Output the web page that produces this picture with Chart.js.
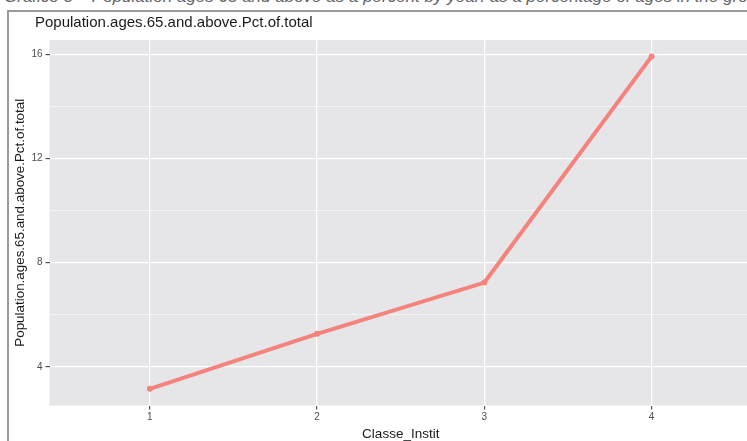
<!DOCTYPE html>
<html><head><meta charset="utf-8">
<script src="https://cdn.jsdelivr.net/npm/chart.js@4"></script>
<style>
html,body{margin:0;padding:0;width:747px;height:441px;overflow:hidden;background:#fff;}
#wrap{position:relative;width:747px;height:441px;overflow:hidden;}
#cap{position:absolute;left:0;top:0;width:747px;height:8px;overflow:hidden;}
#cap span{position:absolute;left:4px;top:-13px;white-space:nowrap;font:italic 17px "Liberation Sans",Arial,sans-serif;color:#666;}
#frame{position:absolute;left:7px;top:10px;width:760px;height:450px;border-left:2px solid #9a9a9a;border-top:2px solid #9a9a9a;}
canvas{position:absolute;left:0;top:0;}
</style></head><body>
<div id="wrap">
<div id="cap"><span>Gráfico 3 – Population ages 65 and above as a percent by year: as a percentage of ages in the group</span></div>
<div id="frame"></div>
<canvas id="c" width="756" height="441" style="width:756px;height:441px"></canvas>
</div>
<script>
const categories = [1, 2, 3, 4];
const values = [3.16, 5.27, 7.24, 15.92];
const yMajorTicks = [4, 8, 12, 16];
const yMinorTicks = [6, 10, 14];
const titleText = "Population.ages.65.and.above.Pct.of.total";
const xTitle = "Classe_Instit";
const yTitle = "Population.ages.65.and.above.Pct.of.total";

const panelBg = {
  id: 'panelBg',
  beforeDraw(chart) {
    const {ctx, chartArea: a} = chart;
    ctx.save();
    ctx.fillStyle = '#E6E6E8';
    ctx.fillRect(a.left, a.top, a.right - a.left, a.bottom - a.top);
    ctx.restore();
  },
  afterDraw(chart) {
    const ctx = chart.ctx;
    ctx.save();
    ctx.fillStyle = '#1a1a1a';
    ctx.font = '15px "Liberation Sans", Arial, sans-serif';
    ctx.textBaseline = 'middle';
    ctx.textAlign = 'left';
    ctx.fillText(titleText, 35, 23);
    ctx.restore();
  }
};

const allY = [...yMajorTicks, ...yMinorTicks].sort((a,b)=>a-b);

new Chart(document.getElementById('c'), {
  type: 'line',
  data: {
    datasets: [{
      data: categories.map((c, i) => ({x: c, y: values[i]})),
      borderColor: '#F4837D',
      backgroundColor: '#F4837D',
      borderWidth: 4,
      pointRadius: 3,
      pointBorderWidth: 0,
      tension: 0
    }]
  },
  options: {
    responsive: false,
    animation: false,
    layout: {padding: {left: 14, top: 40, right: 0, bottom: 0}},
    plugins: {
      legend: {display: false},
      tooltip: {enabled: false},
      title: {display: false}
    },
    scales: {
      x: {
        type: 'linear', min: 0.4, max: 4.6,
        afterBuildTicks: s => { s.ticks = categories.map(v => ({value: v})); },
        grid: {color: '#FFFFFF', lineWidth: 1.3, drawTicks: true, tickLength: 4, tickColor: '#333', tickWidth: 1},
        border: {display: false},
        ticks: {color: '#4d4d4d', font: {family: 'Liberation Sans', size: 10, lineHeight: 1}, padding: 3, maxRotation: 0},
        title: {display: true, text: xTitle, color: '#1a1a1a', font: {family: 'Liberation Sans', size: 13.5, lineHeight: 1}, padding: {top: 2, bottom: 0}}
      },
      y: {
        type: 'linear', min: 2.52, max: 16.55,
        afterBuildTicks: s => { s.ticks = allY.map(v => ({value: v})); },
        grid: {
          color: '#FFFFFF',
          lineWidth: c => yMajorTicks.includes(c.tick && c.tick.value) ? 1.3 : 0.6,
          tickLength: 4,
          tickColor: c => yMajorTicks.includes(c.tick && c.tick.value) ? '#333' : 'rgba(0,0,0,0)',
          tickWidth: 1
        },
        border: {display: false},
        ticks: {
          color: '#4d4d4d', font: {family: 'Liberation Sans', size: 10}, padding: 3,
          callback: v => yMajorTicks.includes(v) ? String(v) : ''
        },
        title: {display: true, text: yTitle, color: '#1a1a1a', font: {family: 'Liberation Sans', size: 13.4, lineHeight: 1}, padding: {top: 0, bottom: 1}}
      }
    }
  },
  plugins: [panelBg]
});
</script>
</body></html>
